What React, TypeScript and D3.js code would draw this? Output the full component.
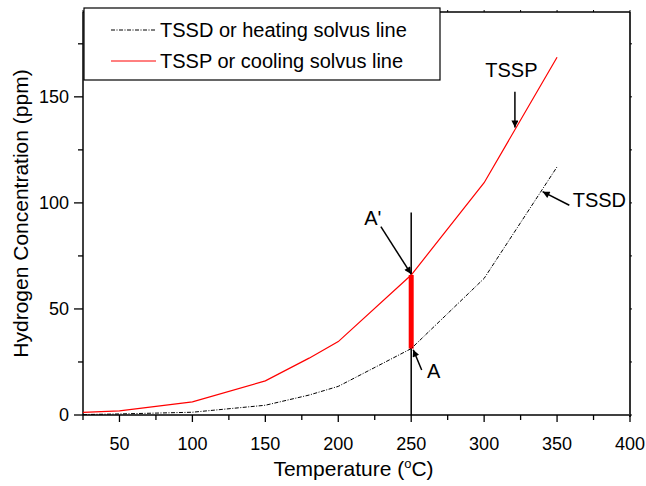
import { useEffect, useRef } from "react";
import * as d3 from "d3";

// temperature (°C) and hydrogen concentration (ppm)
const TEMP = [25, 50, 100, 150, 180, 200, 250, 300, 350];
const TSSP = [1.2, 1.9, 6.2, 16.1, 26.8, 34.6, 66, 109.5, 168.7];
const TSSD = [0.2, 0.5, 1.3, 4.6, 9.4, 13.5, 31.3, 64.4, 117];

const X_TICKS = [50, 100, 150, 200, 250, 300, 350, 400];
const Y_TICKS = [0, 50, 100, 150];

const LEGEND = ["TSSD or heating solvus line", "TSSP or cooling solvus line"];

// annotations in data units: label, label pos, arrow from -> to
const NOTES: { text: string; lx: number; ly: number; anchor: string; from: [number, number]; to: [number, number] }[] = [
  { text: "A'", lx: 229.5, ly: 89.6, anchor: "end", from: [229.2, 88.8], to: [249.9, 66.5] },
  { text: "A", lx: 260.8, ly: 17.4, anchor: "start", from: [257.2, 21.2], to: [251.4, 30.8] },
  { text: "TSSP", lx: 318.7, ly: 159.4, anchor: "middle", from: [321.1, 152.4], to: [321.1, 135.5] },
  { text: "TSSD", lx: 360.7, ly: 98, anchor: "start", from: [358.4, 98.9], to: [340.1, 105.3] },
];

const W = 646;
const H = 486;
const M = { top: 12, right: 16, bottom: 71, left: 83 };
const FONT = "'Liberation Sans', Arial, Helvetica, sans-serif";

export default function App() {
  const ref = useRef<SVGSVGElement>(null);

  useEffect(() => {
    const svg = d3.select(ref.current);
    svg.selectAll("*").remove();

    const x = d3.scaleLinear().domain([25, 400]).range([M.left, W - M.right]);
    const y = d3.scaleLinear().domain([0, 190]).range([H - M.bottom, M.top]);
    const x0 = M.left, x1 = W - M.right, y0 = H - M.bottom, y1 = M.top;

    svg.append("defs").append("marker")
      .attr("id", "ah").attr("viewBox", "0 0 10 10")
      .attr("refX", 10).attr("refY", 5)
      .attr("markerWidth", 10).attr("markerHeight", 7)
      .attr("markerUnits", "userSpaceOnUse")
      .attr("orient", "auto")
      .append("path").attr("d", "M0,0 L10,5 L0,10 Z").attr("fill", "#000");

    // frame
    const frame = svg.append("g").attr("stroke", "#000").attr("fill", "none");
    frame.append("line").attr("x1", x0).attr("x2", x1).attr("y1", y0).attr("y2", y0).attr("stroke-width", 1.6);
    frame.append("line").attr("x1", x0).attr("x2", x0).attr("y1", y0).attr("y2", y1).attr("stroke-width", 1.5);
    frame.append("line").attr("x1", x1).attr("x2", x1).attr("y1", y0 + 2).attr("y2", y1).attr("stroke-width", 2).attr("stroke", "#333");
    frame.append("line").attr("x1", x0).attr("x2", x1).attr("y1", y1).attr("y2", y1).attr("stroke-width", 1.5);

    // ticks
    const xs = d3.range(25, 401, 25);
    const ys = d3.range(0, 190, 25);
    xs.forEach((v) => {
      const major = X_TICKS.includes(v);
      frame.append("line").attr("x1", x(v)).attr("x2", x(v))
        .attr("y1", y0).attr("y2", y0 + (major ? 7 : 5)).attr("stroke-width", 1.3);
      frame.append("line").attr("x1", x(v)).attr("x2", x(v))
        .attr("y1", y1).attr("y2", y1 - 2).attr("stroke-width", 1);
    });
    ys.forEach((v) => {
      const major = Y_TICKS.includes(v);
      frame.append("line").attr("x1", x0).attr("x2", x0 - (major ? 9 : 5))
        .attr("y1", y(v)).attr("y2", y(v)).attr("stroke-width", 1.3);
      frame.append("line").attr("x1", x1).attr("x2", x1 + 2)
        .attr("y1", y(v)).attr("y2", y(v)).attr("stroke-width", 1);
    });

    const text = svg.append("g").attr("font-family", FONT).attr("font-size", 18).attr("fill", "#000");
    X_TICKS.forEach((v) => {
      text.append("text").attr("x", x(v)).attr("y", y0 + 35).attr("text-anchor", "middle").text(v);
    });
    Y_TICKS.forEach((v) => {
      text.append("text").attr("x", x0 - 14).attr("y", y(v)).attr("dy", "0.35em").attr("text-anchor", "end").text(v);
    });

    const xt = text.append("text").attr("x", (x0 + x1) / 2 - 3).attr("y", 476)
      .attr("text-anchor", "middle").attr("font-size", 21);
    xt.append("tspan").text("Temperature (");
    xt.append("tspan").attr("font-size", 13).attr("dy", -8).text("o");
    xt.append("tspan").attr("dy", 8).text("C)");

    text.append("text")
      .attr("transform", `translate(28,${(y0 + y1) / 2}) rotate(-90)`)
      .attr("font-size", 21)
      .attr("text-anchor", "middle").text("Hydrogen Concentration (ppm)");

    // vertical line at 250 and the red A–A' segment
    svg.append("line").attr("x1", x(250)).attr("x2", x(250))
      .attr("y1", y(95.5)).attr("y2", y0).attr("stroke", "#000").attr("stroke-width", 1.5);
    svg.append("line").attr("x1", x(250)).attr("x2", x(250))
      .attr("y1", y(TSSP[6])).attr("y2", y(TSSD[6])).attr("stroke", "#ff0000").attr("stroke-width", 5);

    const line = d3.line<number>().x((_, i) => x(TEMP[i])).y((d) => y(d));
    svg.append("path").datum(TSSD).attr("d", line).attr("fill", "none")
      .attr("stroke", "#000").attr("stroke-width", 1).attr("stroke-dasharray", "4,1.5,1,1.5");
    svg.append("path").datum(TSSP).attr("d", line).attr("fill", "none")
      .attr("stroke", "#ff0000").attr("stroke-width", 1.2);

    // annotations
    NOTES.forEach((n) => {
      svg.append("line")
        .attr("x1", x(n.from[0])).attr("y1", y(n.from[1]))
        .attr("x2", x(n.to[0])).attr("y2", y(n.to[1]))
        .attr("stroke", "#000").attr("stroke-width", 1.5).attr("marker-end", "url(#ah)");
      text.append("text").attr("x", x(n.lx)).attr("y", y(n.ly))
        .attr("font-size", 20)
        .attr("text-anchor", n.anchor).text(n.text);
    });

    // legend
    const lg = svg.append("g");
    lg.append("rect").attr("x", 84).attr("y", 8).attr("width", 356).attr("height", 72)
      .attr("fill", "#fff").attr("stroke", "#000").attr("stroke-width", 1.2);
    LEGEND.forEach((label, i) => {
      const ly = 30 + i * 31;
      lg.append("line").attr("x1", 111).attr("x2", 156).attr("y1", ly).attr("y2", ly)
        .attr("stroke", i === 0 ? "#000" : "#ff0000").attr("stroke-width", 1)
        .attr("stroke-dasharray", i === 0 ? "4,1.5,1,1.5" : null);
      lg.append("text").attr("x", 160).attr("y", ly).attr("dy", "0.35em")
        .attr("font-family", FONT).attr("font-size", 20).text(label);
    });
  }, []);

  return (
    <svg ref={ref} width={W} height={H}
      style={{ position: "absolute", left: 0, top: 0, background: "#fff" }} />
  );
}
